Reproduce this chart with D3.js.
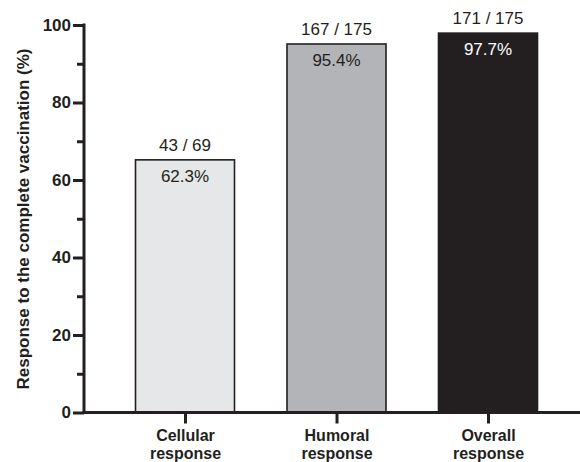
<!DOCTYPE html>
<html><head><meta charset="utf-8">
<script src="https://cdn.jsdelivr.net/npm/d3@7"></script>
<style>body{margin:0;background:#fff}svg{display:block}text{font-family:Arial,"Liberation Sans",sans-serif}</style>
</head><body><svg id="c" width="580" height="462"></svg>
<script>
const categories = [["Cellular","response"],["Humoral","response"],["Overall","response"]];
const values = [65.2, 95.1, 97.9];
const ratioLabels = ["43 / 69","167 / 175","171 / 175"];
const pctLabels = ["62.3%","95.4%","97.7%"];
const fills = ["#e6e7e8","#b3b4b7","#231f20"];
const yTicks = [0,20,40,60,80,100];
const yMinorTicks = [10,30,50,70,90];

const svg = d3.select("#c");
const ink = "#231f20";
const keys = categories.map(c=>c.join(" "));
const x = d3.scalePoint().domain(keys).range([109.25,563.75]).padding(0.5);
const y = d3.scaleLinear().domain([0,100]).range([412.5,25]);
const bw = 99;

// bars
svg.selectAll("rect.bar").data(values).enter().append("rect")
  .attr("x",(d,i)=>x(keys[i])-bw/2).attr("y",d=>y(d))
  .attr("width",bw).attr("height",d=>y(0)-y(d))
  .attr("fill",(d,i)=>fills[i]).attr("stroke",ink).attr("stroke-width",1.6);

svg.selectAll("text.ratio").data(values).enter().append("text")
  .attr("x",(d,i)=>x(keys[i])).attr("y",d=>y(d)-9)
  .attr("text-anchor","middle").attr("font-size",17).attr("fill",ink)
  .text((d,i)=>ratioLabels[i]);
svg.selectAll("text.pct").data(values).enter().append("text")
  .attr("x",(d,i)=>x(keys[i])).attr("y",d=>y(d)+22)
  .attr("text-anchor","middle").attr("font-size",17)
  .attr("fill",(d,i)=>i===2?"#ffffff":ink)
  .text((d,i)=>pctLabels[i]);

// y axis
const yAxis = svg.append("g").attr("transform","translate(84,0)")
  .call(d3.axisLeft(y).tickValues(yTicks).tickSize(11).tickPadding(2));
const yMinor = svg.append("g").attr("transform","translate(84,0)")
  .call(d3.axisLeft(y).tickValues(yMinorTicks).tickSize(7).tickFormat(""));
[yAxis,yMinor].forEach(g=>{
  g.select(".domain").attr("stroke",ink).attr("stroke-width",3);
  g.selectAll(".tick line").attr("stroke",ink).attr("stroke-width",3);
});
yMinor.select(".domain").remove();
yAxis.select(".domain").attr("d","M0,"+(y(0)+1.5)+"V"+(y(100)-1.5));
yAxis.selectAll(".tick text").attr("font-size",17).attr("font-weight","bold").attr("fill",ink)
  .attr("font-family","Arial, 'Liberation Sans', sans-serif");

// x axis
const xAxis = svg.append("g").attr("transform","translate(0,"+y(0)+")")
  .call(d3.axisBottom(x).tickSize(11).tickFormat(""));
xAxis.select(".domain").attr("d","M82.5,0H580").attr("stroke",ink).attr("stroke-width",3);
xAxis.selectAll(".tick line").attr("stroke",ink).attr("stroke-width",3);
xAxis.selectAll(".tick").each(function(d,i){
  const t = d3.select(this).append("text").attr("fill",ink).attr("font-size",16)
    .attr("font-weight","bold").attr("text-anchor","middle")
    .attr("font-family","Arial, 'Liberation Sans', sans-serif");
  categories[i].forEach((line,j)=>t.append("tspan").attr("x",0).attr("y",28+j*18).text(line));
});

// y title
svg.append("text").attr("transform","translate(29,219) rotate(-90)")
  .attr("text-anchor","middle").attr("font-size",17).attr("font-weight","bold").attr("fill",ink)
  .text("Response to the complete vaccination (%)");
</script></body></html>
